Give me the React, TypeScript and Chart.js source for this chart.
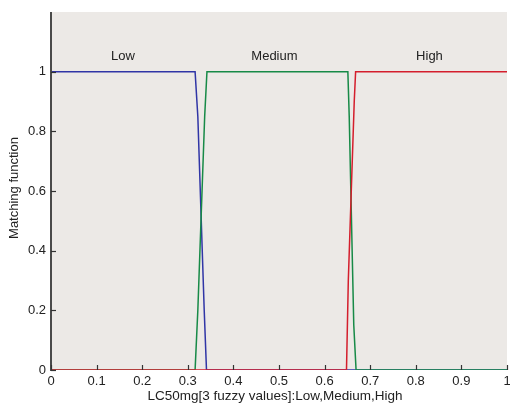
import React, { useEffect, useRef } from "react";
import { Chart, registerables } from "chart.js";

Chart.register(...registerables);

const lowX = [0, 0.316, 0.322, 0.336, 0.341, 1];
const lowY = [1, 1, 0.85, 0.2, 0, 0];
const mediumX = [0, 0.316, 0.322, 0.337, 0.342, 0.651, 0.654, 0.664, 0.669, 1];
const mediumY = [0, 0, 0.2, 0.85, 1, 1, 0.85, 0.15, 0, 0];
const highX = [0, 0.648, 0.652, 0.665, 0.668, 1];
const highY = [0, 0, 0.3, 0.9, 1, 1];

const setNames = ["Low", "Medium", "High"];
const setLabelX = [0.158, 0.49, 0.83];
const setLabelY = 1.05;

const xTicks = [0, 0.1, 0.2, 0.3, 0.4, 0.5, 0.6, 0.7, 0.8, 0.9, 1];
const yTicks = [0, 0.2, 0.4, 0.6, 0.8, 1];

const xTitle = "LC50mg[3 fuzzy values]:Low,Medium,High";
const yTitle = "Matching function";

const FONT = "'Liberation Sans', Arial, sans-serif";

const toPts = (xs: number[], ys: number[]) => xs.map((x, i) => ({ x, y: ys[i] }));

export default function App() {
  const ref = useRef<HTMLCanvasElement | null>(null);

  useEffect(() => {
    if (!ref.current) return;
    const decor = {
      id: "decor",
      beforeDraw(chart: any) {
        const { ctx, chartArea: a } = chart;
        ctx.save();
        ctx.fillStyle = "#ece9e6";
        ctx.fillRect(a.left, a.top, a.right - a.left, a.bottom - a.top);
        ctx.restore();
      },
      afterDatasetsDraw(chart: any) {
        const { ctx, chartArea: a, scales } = chart;
        const xs = scales.x;
        const ys = scales.y;
        ctx.save();
        ctx.strokeStyle = "#4a4a4a";
        ctx.lineWidth = 2;
        ctx.beginPath();
        ctx.moveTo(a.left, a.top);
        ctx.lineTo(a.left, a.bottom + 1);
        ctx.stroke();
        ctx.lineWidth = 1.2;
        ctx.strokeStyle = "#333";
        xTicks.forEach((v) => {
          const px = Math.round(xs.getPixelForValue(v)) + 0.5;
          ctx.beginPath();
          ctx.moveTo(px, a.bottom);
          ctx.lineTo(px, a.bottom - 5);
          ctx.stroke();
        });
        yTicks.forEach((v) => {
          const py = Math.round(ys.getPixelForValue(v)) + 0.5;
          ctx.beginPath();
          ctx.moveTo(a.left, py);
          ctx.lineTo(a.left + 5, py);
          ctx.stroke();
        });
        ctx.fillStyle = "#222";
        ctx.font = "13px " + FONT;
        ctx.textAlign = "center";
        ctx.textBaseline = "middle";
        setNames.forEach((n, i) => {
          ctx.fillText(n, xs.getPixelForValue(setLabelX[i]), ys.getPixelForValue(setLabelY));
        });
        ctx.font = "13.5px " + FONT;
        ctx.fillText(xTitle, 275, 396);
        ctx.font = "13px " + FONT;
        ctx.translate(14, 188);
        ctx.rotate(-Math.PI / 2);
        ctx.fillText(yTitle, 0, 0);
        ctx.restore();
      },
    };

    const chart = new Chart(ref.current, {
      type: "scatter",
      data: {
        datasets: [
          { label: "High", data: toPts(highX, highY), borderColor: "#d41e2c" },
          { label: "Medium", data: toPts(mediumX, mediumY), borderColor: "#178a47" },
          { label: "Low", data: toPts(lowX, lowY), borderColor: "#3035a6" },
        ].map((d) => ({
          ...d,
          showLine: true,
          borderWidth: 1.5,
          pointRadius: 0,
          tension: 0,
          fill: false,
        })),
      },
      options: {
        animation: false,
        responsive: false,
        maintainAspectRatio: false,
        layout: { padding: { top: 12, right: 3, left: 0, bottom: 0 } },
        plugins: { legend: { display: false }, tooltip: { enabled: false } },
        scales: {
          x: {
            type: "linear",
            min: 0,
            max: 1,
            afterFit: (s: any) => {
              s.height = 38;
              s.paddingLeft = 0;
              s.paddingRight = 0;
            },
            afterBuildTicks: (s: any) => {
              s.ticks = xTicks.map((v) => ({ value: v }));
            },
            grid: { display: false, drawTicks: false, tickLength: 0 },
            border: { display: false },
            ticks: {
              padding: 4,
              maxRotation: 0,
              color: "#222",
              font: { family: FONT, size: 13 },
              callback: (v: any) => String(Number(Number(v).toFixed(1))),
            },
          },
          y: {
            type: "linear",
            min: 0,
            max: 1.2,
            afterFit: (s: any) => {
              s.width = 51;
              s.paddingTop = 0;
              s.paddingBottom = 0;
            },
            afterBuildTicks: (s: any) => {
              s.ticks = yTicks.map((v) => ({ value: v }));
            },
            grid: { display: false, drawTicks: false, tickLength: 0 },
            border: { display: false },
            ticks: {
              padding: 5,
              color: "#222",
              font: { family: FONT, size: 13 },
              callback: (v: any) => String(Number(Number(v).toFixed(1))),
            },
          },
        },
      },
      plugins: [decor],
    } as any);
    return () => chart.destroy();
  }, []);

  return (
    <div style={{ position: "fixed", left: 0, top: 0, width: 510, height: 408, background: "#fff" }}>
      <canvas ref={ref} width={510} height={408} style={{ width: 510, height: 408, display: "block" }} />
    </div>
  );
}
